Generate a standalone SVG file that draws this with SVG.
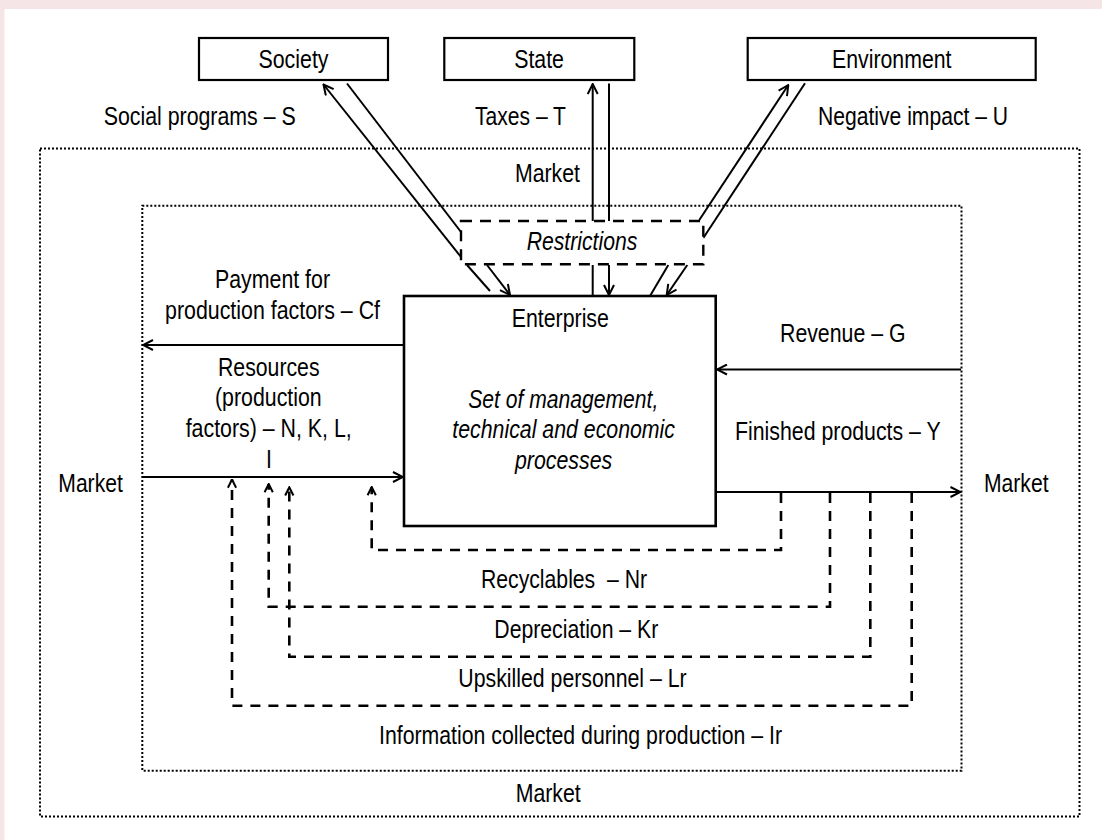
<svg xmlns="http://www.w3.org/2000/svg" width="1102" height="840" viewBox="0 0 1102 840">
<style>
.box{fill:#fff;stroke:#000;stroke-width:2.2}
.ent{fill:#fff;stroke:#000;stroke-width:2.6}
.rst{fill:#fff;stroke:#000;stroke-width:2.4;stroke-dasharray:11 8}
.t{font-family:"Liberation Sans Narrow","Arial Narrow","Liberation Sans",Arial,sans-serif;font-size:26px;fill:#000}
.it{font-style:italic}
.ln{stroke:#000;stroke-width:2;fill:none}
.dl{stroke:#000;stroke-width:2.6;fill:none;stroke-dasharray:10 8}
.dot{fill:none;stroke:#000;stroke-width:2;stroke-dasharray:2 2}
</style>
<defs>
<marker id="ah" viewBox="0 0 12 12" refX="11" refY="6" markerWidth="12" markerHeight="12" markerUnits="userSpaceOnUse" orient="auto">
<path d="M1,1 L11,6 L1,11" fill="none" stroke="#000" stroke-width="2"/>
</marker>
<marker id="ahs" viewBox="0 0 12 12" refX="11" refY="6" markerWidth="11" markerHeight="11" markerUnits="userSpaceOnUse" orient="auto">
<path d="M2,1.5 L11,6 L2,10.5" fill="none" stroke="#000" stroke-width="2.2"/>
</marker>
</defs>
<rect x="0" y="0" width="1102" height="840" fill="#f5e5e6"/>
<rect x="4.5" y="9" width="1097.5" height="831" fill="#fff"/>
<g id="market-zones">
<rect class="dot" x="40" y="148.5" width="1039.5" height="668"/>
<rect class="dot" x="142.3" y="205.7" width="819.2" height="565"/>
<text class="t" x="515" y="182" textLength="65" lengthAdjust="spacingAndGlyphs">Market</text>
<text class="t" x="58.3" y="492" textLength="64.5" lengthAdjust="spacingAndGlyphs">Market</text>
<text class="t" x="984" y="492" textLength="64.5" lengthAdjust="spacingAndGlyphs">Market</text>
<text class="t" x="515.7" y="802" textLength="65" lengthAdjust="spacingAndGlyphs">Market</text>
</g>
<g id="connectors">
<line class="ln" x1="461" y1="257" x2="323.5" y2="84.5" marker-end="url(#ah)"/>
<line class="ln" x1="347" y1="83.5" x2="461" y2="232"/>
<line class="ln" x1="467" y1="265" x2="490" y2="291"/>
<line class="ln" x1="487" y1="265" x2="510" y2="295" marker-end="url(#ah)"/>
<line class="ln" x1="592.7" y1="221" x2="592.7" y2="84" marker-end="url(#ah)"/>
<line class="ln" x1="609" y1="83.5" x2="609" y2="221"/>
<line class="ln" x1="592.7" y1="265" x2="592.7" y2="296"/>
<line class="ln" x1="609" y1="265" x2="609" y2="295" marker-end="url(#ah)"/>
<line class="ln" x1="699.3" y1="220" x2="788.3" y2="85" marker-end="url(#ah)"/>
<line class="ln" x1="805" y1="83.3" x2="703.3" y2="238"/>
<line class="ln" x1="668.3" y1="265" x2="650" y2="296"/>
<line class="ln" x1="687.3" y1="265" x2="666.7" y2="295" marker-end="url(#ah)"/>
<line class="ln" x1="404" y1="345" x2="143" y2="345" marker-end="url(#ah)"/>
<line class="ln" x1="142.5" y1="477" x2="403" y2="477" marker-end="url(#ah)"/>
<line class="ln" x1="961" y1="369.5" x2="717" y2="369.5" marker-end="url(#ah)"/>
<line class="ln" x1="716" y1="492" x2="960.5" y2="492" marker-end="url(#ah)"/>
<path class="dl" d="M781,493 V550 H371.7 V487" marker-end="url(#ahs)"/>
<path class="dl" d="M830,493 V606.7 H268.7 V484" marker-end="url(#ahs)"/>
<path class="dl" d="M870.3,493 V656.7 H289.3 V487.3" marker-end="url(#ahs)"/>
<path class="dl" d="M911.7,493 V705.7 H232 V479.5" marker-end="url(#ahs)"/>
</g>
<g id="society">
<rect class="box" x="199" y="38" width="189" height="42"/>
<text class="t" x="258.5" y="68" textLength="70" lengthAdjust="spacingAndGlyphs">Society</text>
</g>
<g id="state">
<rect class="box" x="444.3" y="38" width="190" height="42"/>
<text class="t" x="514.2" y="68" textLength="49.8" lengthAdjust="spacingAndGlyphs">State</text>
</g>
<g id="environment">
<rect class="box" x="747.7" y="38" width="288" height="42"/>
<text class="t" x="832" y="68" textLength="119.5" lengthAdjust="spacingAndGlyphs">Environment</text>
</g>
<g id="restrictions">
<rect class="rst" x="461" y="221" width="242.3" height="43.3"/>
<text class="t it" x="526.7" y="250" textLength="110.6" lengthAdjust="spacingAndGlyphs">Restrictions</text>
</g>
<g id="enterprise">
<rect class="ent" x="404" y="296" width="311.7" height="230"/>
<text class="t" x="511.7" y="327" textLength="97.2" lengthAdjust="spacingAndGlyphs">Enterprise</text>
<text class="t it" x="468.3" y="408" textLength="190" lengthAdjust="spacingAndGlyphs">Set of management,</text>
<text class="t it" x="452.3" y="438" textLength="222.7" lengthAdjust="spacingAndGlyphs">technical and economic</text>
<text class="t it" x="515" y="469" textLength="97.2" lengthAdjust="spacingAndGlyphs">processes</text>
</g>
<g id="labels">
<text class="t" x="103.7" y="125" textLength="192" lengthAdjust="spacingAndGlyphs">Social programs – S</text>
<text class="t" x="475" y="125" textLength="91" lengthAdjust="spacingAndGlyphs">Taxes – T</text>
<text class="t" x="818" y="125" textLength="190" lengthAdjust="spacingAndGlyphs">Negative impact – U</text>
<text class="t" x="215" y="288" textLength="115" lengthAdjust="spacingAndGlyphs">Payment for</text>
<text class="t" x="165" y="319" textLength="215" lengthAdjust="spacingAndGlyphs">production factors – Cf</text>
<text class="t" x="218" y="376" textLength="101.5" lengthAdjust="spacingAndGlyphs">Resources</text>
<text class="t" x="215" y="406" textLength="106.7" lengthAdjust="spacingAndGlyphs">(production</text>
<text class="t" x="185.7" y="437" textLength="166" lengthAdjust="spacingAndGlyphs">factors) – N, K, L,</text>
<text class="t" x="266" y="468" textLength="5.9" lengthAdjust="spacingAndGlyphs">I</text>
<text class="t" x="780" y="342" textLength="125.5" lengthAdjust="spacingAndGlyphs">Revenue – G</text>
<text class="t" x="735" y="440" textLength="205.7" lengthAdjust="spacingAndGlyphs">Finished products – Y</text>
<text class="t" x="481" y="588" textLength="166" lengthAdjust="spacingAndGlyphs" xml:space="preserve">Recyclables  – Nr</text>
<text class="t" x="494.3" y="638" textLength="164" lengthAdjust="spacingAndGlyphs">Depreciation – Kr</text>
<text class="t" x="458.3" y="687" textLength="228.4" lengthAdjust="spacingAndGlyphs">Upskilled personnel – Lr</text>
<text class="t" x="379" y="744" textLength="403" lengthAdjust="spacingAndGlyphs">Information collected during production – Ir</text>
</g>
</svg>
